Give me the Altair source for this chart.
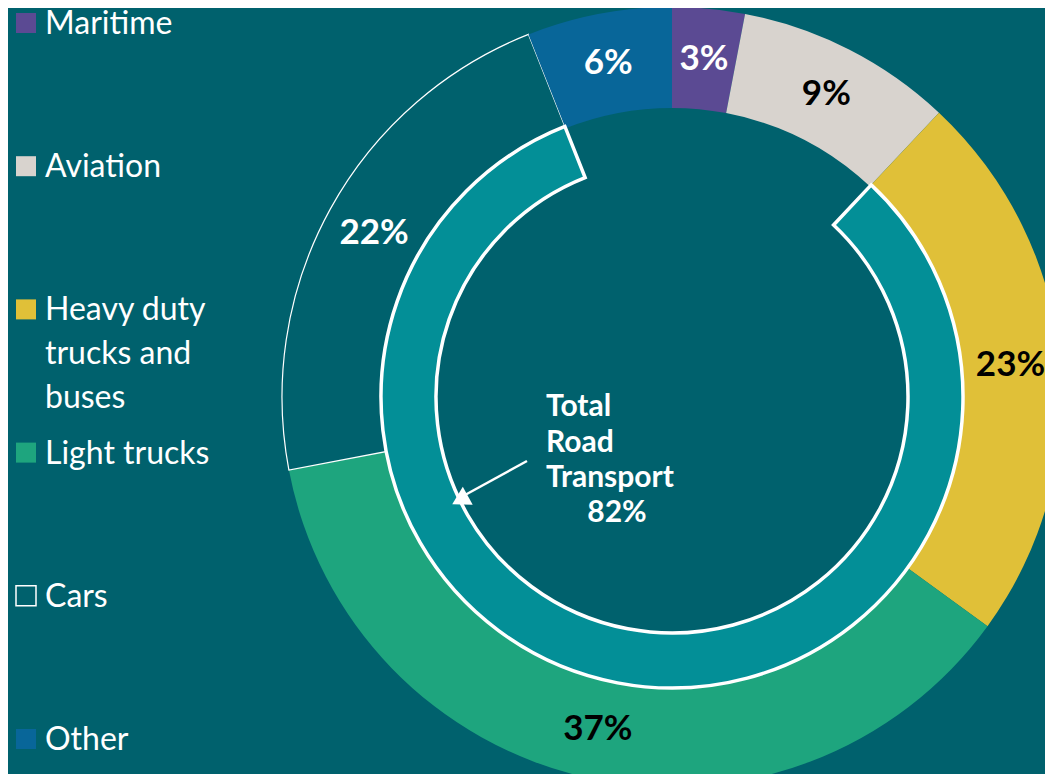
import altair as alt
import pandas as pd

# ---- data ----
categories = ["Maritime", "Aviation", "Heavy duty trucks and buses", "Light trucks", "Cars", "Other"]
legend_labels = ["Maritime", "Aviation", "Heavy duty\ntrucks and\nbuses", "Light trucks", "Cars", "Other"]
shares = [3, 9, 23, 37, 22, 6]
pct_labels = ["3%", "9%", "23%", "37%", "22%", "6%"]
fill_colors = ["#5b4a93", "#d8d3ce", "#e0c038", "#1ea57e", "#00616d", "#086699"]
label_colors = ["#ffffff", "#000000", "#000000", "#000000", "#ffffff", "#ffffff"]
edge_widths = [0, 0, 0, 0, 1.2, 0]
legend_edge = [0, 0, 0, 0, 1.5, 0]

road_lines = ["Total", "Road", "Transport"]
road_share = 82
road_first_category = "Heavy duty trucks and buses"

BG = "#00616d"
CX, CY = 664, 389
FONT = "Lato"

# ---- tables ----
starts = []
acc = 0
for s in shares:
    starts.append(acc)
    acc += s
df = pd.DataFrame({
    "cat": categories,
    "legend": legend_labels,
    "share": shares,
    "start": starts,
    "end": [a + b for a, b in zip(starts, shares)],
    "label": pct_labels,
    "fill": fill_colors,
    "tcolor": label_colors,
    "edge": edge_widths,
    "ledge": legend_edge,
})
df["mid"] = (df["start"] + df["end"]) / 2
df["lstroke"] = ["#ffffff" if w > 0 else c for w, c in zip(legend_edge, fill_colors)]

road_start = float(df.loc[df["cat"] == road_first_category, "start"].iloc[0])
road_df = pd.DataFrame({"start": [road_start], "end": [road_start + road_share],
                        "title": ["\n".join(road_lines)], "pct": [f"{road_share}%"]})

theta_scale = alt.Scale(domain=[0, 100], range=[0, 6.283185307179586])

base = alt.Chart(df)

outer = base.mark_arc(radius=390, radius2=289, stroke="#ffffff").encode(
    theta=alt.Theta("start:Q", scale=theta_scale),
    theta2="end:Q",
    fill=alt.Fill("fill:N", scale=None),
    strokeWidth=alt.StrokeWidth("edge:Q", scale=None),
    x=alt.value(CX), y=alt.value(CY),
)

inner = alt.Chart(road_df).mark_arc(
    radius=291, radius2=236, fill="#038f97", stroke="#ffffff", strokeWidth=3.5
).encode(
    theta=alt.Theta("start:Q", scale=theta_scale),
    theta2="end:Q",
    x=alt.value(CX), y=alt.value(CY),
)

pct = base.mark_text(radius=340, font=FONT, fontSize=35, fontWeight="bold",
                     align="center", baseline="middle").encode(
    theta=alt.Theta("mid:Q", scale=theta_scale),
    text="label:N",
    color=alt.Color("tcolor:N", scale=None),
    x=alt.value(CX), y=alt.value(CY),
)

road_title = alt.Chart(road_df).mark_text(
    font=FONT, fontSize=30, fontWeight="bold", color="#ffffff", align="left",
    baseline="alphabetic", lineBreak="\n", lineHeight=35.5
).encode(text="title:N", x=alt.value(538), y=alt.value(408))

road_pct = alt.Chart(road_df).mark_text(
    font=FONT, fontSize=30, fontWeight="bold", color="#ffffff", align="center",
    baseline="alphabetic"
).encode(text="pct:N", x=alt.value(609), y=alt.value(514))

arrow_line = alt.Chart(road_df).mark_rule(color="#ffffff", strokeWidth=2.5).encode(
    x=alt.value(519), y=alt.value(453), x2=alt.value(457), y2=alt.value(487)
)
arrow_head = alt.Chart(road_df).mark_point(
    shape="triangle-up", filled=True, color="#ffffff", size=420, angle=241, opacity=1
).encode(x=alt.value(452), y=alt.value(492))

ypos = alt.Y("cat:N", scale=alt.Scale(type="point", domain=categories, range=[15, 731], padding=0),
             axis=None)

leg_sym = base.mark_square(size=400, opacity=1).encode(
    x=alt.value(18), y=ypos,
    fill=alt.Fill("fill:N", scale=None),
    stroke=alt.Stroke("lstroke:N", scale=None),
    strokeWidth=alt.StrokeWidth("ledge:Q", scale=None),
)
leg_txt = base.mark_text(font=FONT, fontSize=32, color="#ffffff", align="left",
                         baseline="alphabetic", dy=11, lineBreak="\n", lineHeight=44).encode(
    x=alt.value(37), y=ypos, text="legend:N",
)

chart = alt.layer(outer, inner, pct, road_title, road_pct, arrow_line, arrow_head, leg_sym, leg_txt).properties(
    width=1037, height=766, padding=0, autosize=alt.AutoSizeParams(type="none"),
).configure(background=BG).configure_view(stroke=None)

chart.save("out.html", embed_options={"renderer": "svg", "actions": False})
